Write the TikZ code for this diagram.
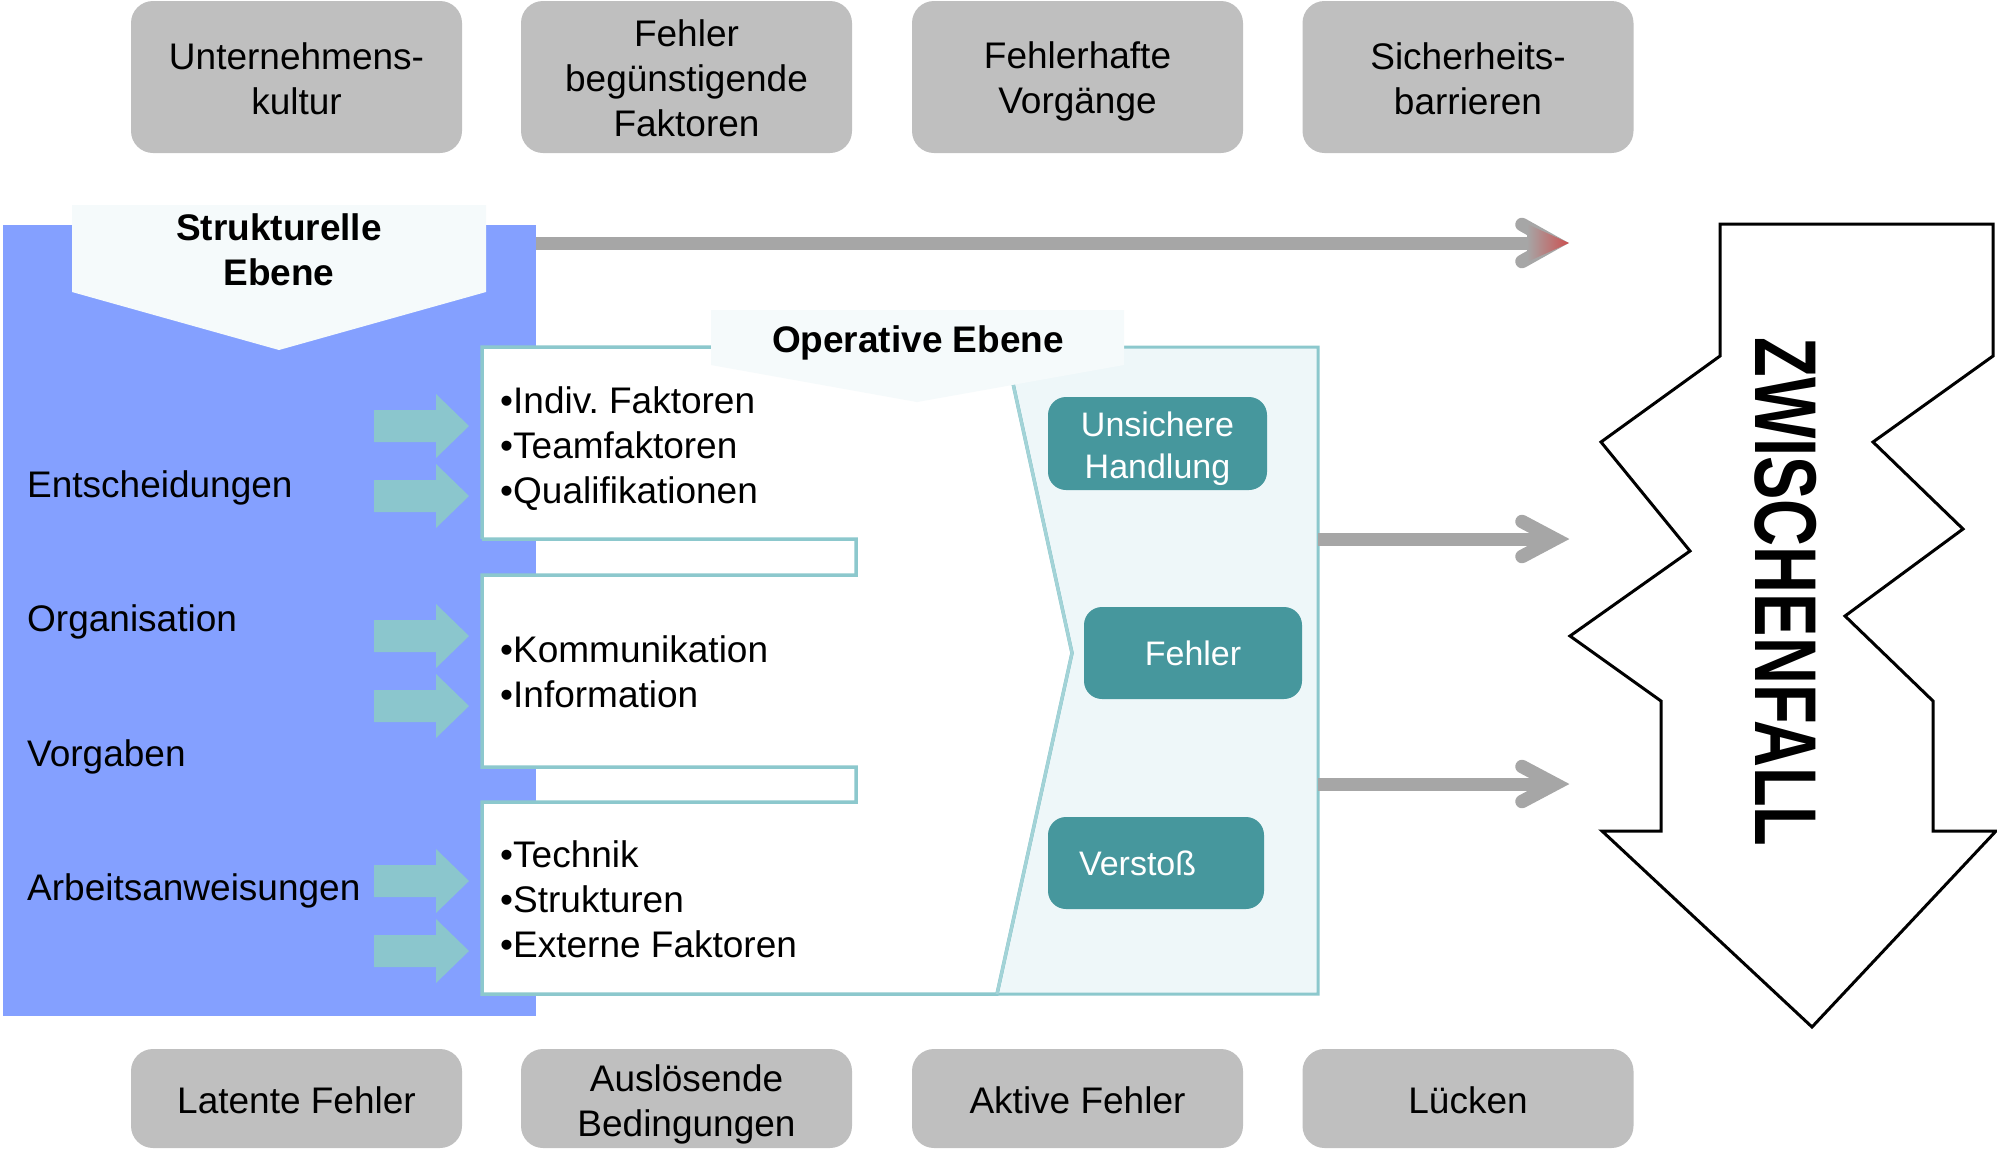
\documentclass[tikz,border=0pt]{standalone}
\usepackage{fontspec}
\setmainfont{Liberation Sans}
\frenchspacing
\definecolor{blueBg}{HTML}{84A0FF}
\definecolor{panelLine}{HTML}{8CC8CD}
\definecolor{panelFill}{HTML}{EEF7F9}
\definecolor{pentFill}{HTML}{F5FAFB}
\definecolor{grayBox}{HTML}{BFBFBF}
\definecolor{arrowGray}{HTML}{A6A6A6}
\definecolor{tealDark}{HTML}{46979D}
\definecolor{tealArrow}{HTML}{8BC6CD}
\definecolor{tipRed}{HTML}{CC5050}
\begin{document}
\begin{tikzpicture}[x=1pt,y=-1pt,
  graybox/.style={fill=grayBox, rounded corners=22pt, minimum width=331pt, inner sep=0pt, align=center, font=\fontsize{37}{45}\selectfont},
  tealbox/.style={fill=tealDark, rounded corners=18pt, inner sep=0pt, align=center, text=white, font=\fontsize{34}{42}\selectfont},
  lbl/.style={anchor=base west, inner sep=0pt, font=\fontsize{37}{45}\selectfont},
  lst/.style={anchor=west, inner sep=0pt, align=left, font=\fontsize{37}{45}\selectfont},
  ttl/.style={inner sep=0pt, align=center, font=\fontsize{37}{45}\selectfont\bfseries},
  shaft/.style={draw=arrowGray, line width=13pt},
  barb/.style={draw=arrowGray, line width=13.5pt, line cap=round, line join=miter},
  tealarrow/.pic={\fill[tealArrow] (0,-16)--(62,-16)--(62,-32)--(95,0)--(62,32)--(62,16)--(0,16)--cycle;}
]
\useasboundingbox (0,0) rectangle (1997,1149);

% blue structural area
\fill[blueBg] (3,225) rectangle (536,1016);

% top long gray arrow
\coordinate (a1s) at (536,243);
\coordinate (a1e) at (1555,243);
\draw[shaft] (a1s) -- (a1e);
\draw[barb] (1522,224.5) -- (a1e) -- (1522,261.5);
\shade[left color=arrowGray, right color=tipRed] (1527,224) -- (1569,243) -- (1527,262) -- cycle;

% Strukturelle Ebene pentagon
\fill[pentFill] (72,205) -- (486,205) -- (486,292) -- (279,350) -- (72,292) -- cycle;
\node[ttl] (struk) at (279,249.5) {Strukturelle\\Ebene};

% operative panel (light) and white boxes
\filldraw[fill=panelFill, draw=panelLine, line width=3pt] (1005,347) -- (1318,347) -- (1318,994) -- (997,994) -- (1072,653) -- cycle;
\filldraw[fill=white, draw=panelLine, line width=3.5pt, line join=miter]
  (482,539) -- (482,347) -- (1005,347) -- (1072,653) -- (997,994) -- (482,994) -- (482,802) -- (856,802) -- (856,767) -- (482,767) -- (482,575) -- (856,575) -- (856,539) -- (482,539);
\draw[draw=panelLine!80!white, line width=3pt] (1005,347) -- (1072,653) -- (997,994);

% Operative Ebene pentagon
\fill[pentFill] (711,310) -- (1124,310) -- (1124,365) -- (917,402) -- (711,365) -- cycle;
\node[ttl, anchor=base] (oper) at (918,352) {Operative Ebene};

% teal block arrows
\pic at (374,426) {tealarrow};
\pic at (374,496) {tealarrow};
\pic at (374,636) {tealarrow};
\pic at (374,706) {tealarrow};
\pic at (374,881) {tealarrow};
\pic at (374,951) {tealarrow};

% left labels
\node[lbl] (ent) at (27,497) {Entscheidungen};
\node[lbl] (org) at (27,631) {Organisation};
\node[lbl] (vor) at (27,766) {Vorgaben};
\node[lbl] (arb) at (27,900) {Arbeitsanweisungen};

% lists
\node[lst] (l1) at (500,449) {•Indiv. Faktoren\\•Teamfaktoren\\•Qualifikationen};
\node[lst] (l2) at (500,672) {•Kommunikation\\•Information};
\node[lst] (l3) at (500,899) {•Technik\\•Strukturen\\•Externe Faktoren};

% teal boxes
\node[tealbox, minimum width=219pt, minimum height=93pt] (uh) at (1157.5,443.5) {};
\node[tealbox, fill=none, anchor=center] (uht) at (1157.5,448.5) {Unsichere\\Handlung};
\node[tealbox, minimum width=218pt, minimum height=92pt] (fe) at (1193,653) {Fehler};
\node[tealbox, minimum height=92pt, inner xsep=31pt, text width=154pt, align=left] (ve) at (1156,863) {Verstoß};

% gray arrows 2,3
\coordinate (a2s) at (1318,539);
\coordinate (a2e) at (1555,539);
\draw[shaft] (a2s) -- (a2e);
\draw[barb] (1522,521.5) -- (a2e) -- (1522,556.5);
\coordinate (a3s) at (1318,784);
\coordinate (a3e) at (1555,784);
\draw[shaft] (a3s) -- (a3e);
\draw[barb] (1522,766.5) -- (a3e) -- (1522,801.5);

% ZWISCHENFALL shape
\filldraw[fill=white, draw=black, line width=3pt, line join=miter]
  (1720,224) -- (1993,224) -- (1993,356) -- (1873,442) -- (1963,529) -- (1845,616) -- (1933,701) -- (1933,831) -- (1996,831)
  -- (1812,1027) -- (1602,831) -- (1661,831) -- (1661,701) -- (1570,636) -- (1690,551) -- (1601,442) -- (1720,356) -- cycle;
\node[rotate=-90, inner sep=0pt, font=\fontsize{65}{70}\selectfont\bfseries] (zw) at (1786,592) {\scalebox{1}[1.35]{ZWISCHENFALL}};

% top gray boxes
\node[graybox, minimum height=152pt] (t1) at (296.5,77) {};
\node[graybox, fill=none] (t1t) at (296.5,78.5) {Unternehmens-\\kultur};
\node[graybox, minimum height=152pt] (t2) at (686.5,77) {};
\node[graybox, fill=none] (t2t) at (686.5,78.5) {Fehler\\begünstigende\\Faktoren};
\node[graybox, minimum height=152pt] (t3) at (1077.5,77) {};
\node[graybox, fill=none] (t3t) at (1077.5,81.5) {Fehlerhafte\\Vorgänge};
\node[graybox, minimum height=152pt] (t4) at (1468,77) {};
\node[graybox, fill=none] (t4t) at (1468,78.5) {Sicherheits-\\barrieren};

% bottom gray boxes
\node[graybox, minimum height=99pt] (b1) at (296.5,1098.5) {};
\node[graybox, fill=none] (b1t) at (296.5,1100) {Latente Fehler};
\node[graybox, minimum height=99pt] (b2) at (686.5,1098.5) {};
\node[graybox, fill=none] (b2t) at (686.5,1104) {Auslösende\\Bedingungen};
\node[graybox, minimum height=99pt] (b3) at (1077.5,1098.5) {};
\node[graybox, fill=none] (b3t) at (1077.5,1100) {Aktive Fehler};
\node[graybox, minimum height=99pt] (b4) at (1468,1098.5) {};
\node[graybox, fill=none] (b4t) at (1468,1100) {Lücken};
\end{tikzpicture}
\end{document}
